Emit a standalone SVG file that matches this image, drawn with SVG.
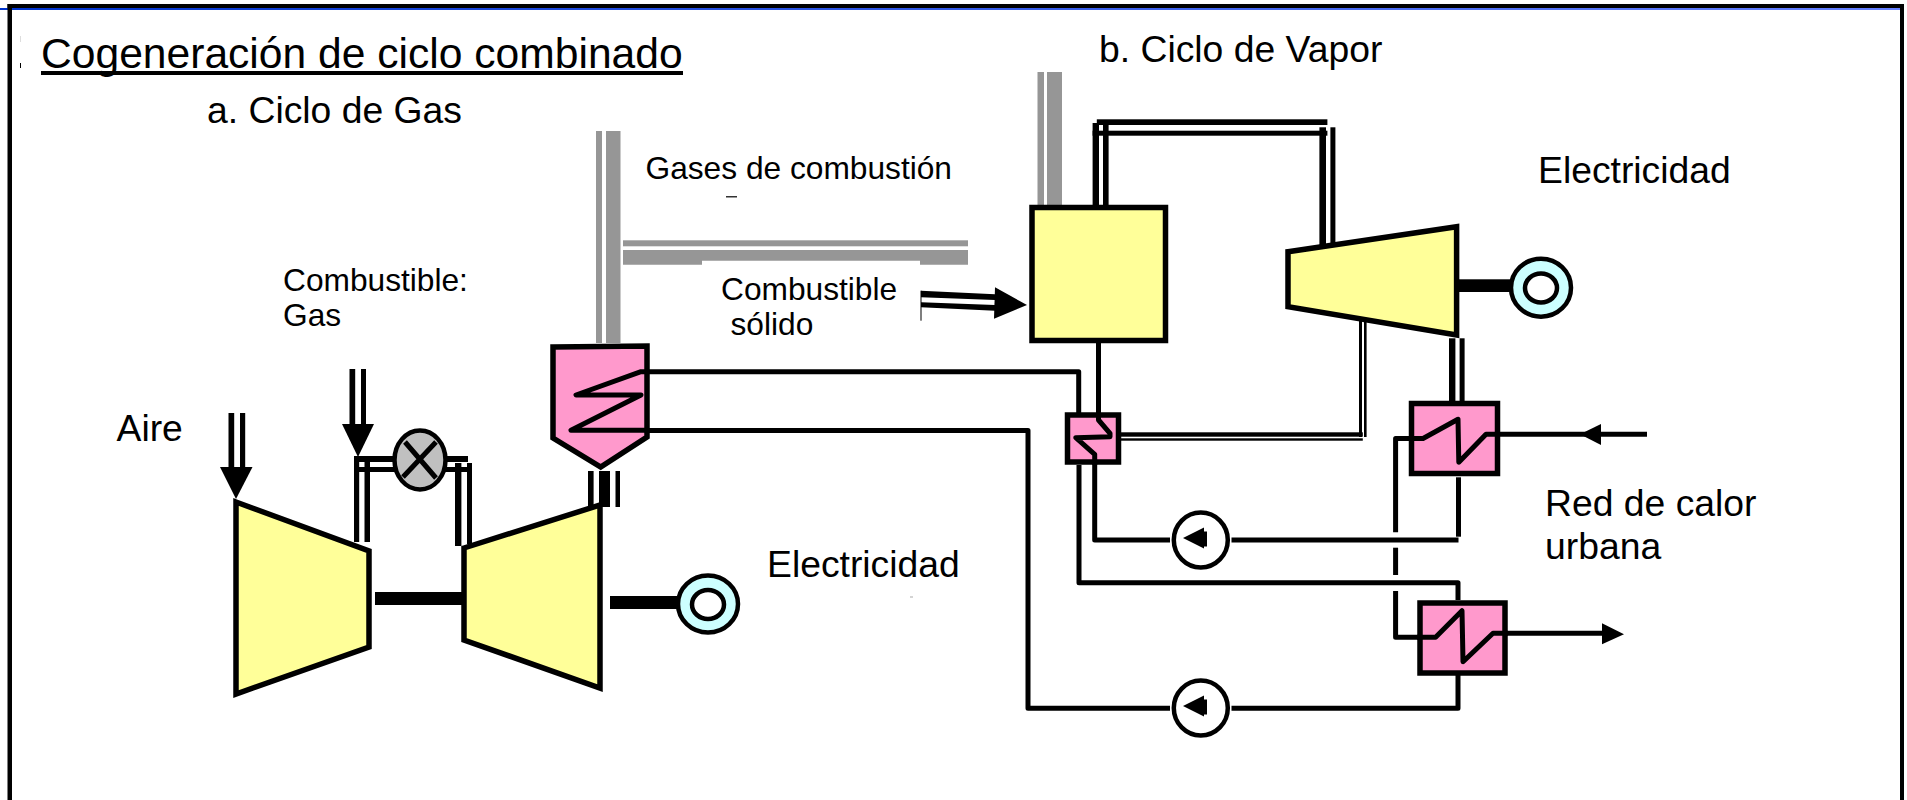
<svg xmlns="http://www.w3.org/2000/svg" width="1907" height="800" viewBox="0 0 1907 800">
<style>
text{font-family:"Liberation Sans",Arial,sans-serif;fill:#000}
.yel{fill:#FFFF99;stroke:#000;stroke-width:5.5}
.pink{fill:#FF99CC;stroke:#000;stroke-width:5.5}
.ln{fill:none;stroke:#000;stroke-width:5;stroke-linejoin:round}
.gr{fill:#969696}
.bk{fill:#000}
.big{font-size:37.3px}
.sm{font-size:31.7px}
.pmp{fill:#fff;stroke:#000;stroke-width:4.5}
</style>
<defs><linearGradient id="bl"><stop offset="0" stop-color="#0033cc"/><stop offset="1" stop-color="#6680ff"/></linearGradient></defs>
<rect width="1907" height="800" fill="#fff"/>
<g id="frame">
<rect x="0" y="8" width="1904" height="2" fill="url(#bl)"/>
<rect x="7.5" y="4" width="1896.5" height="4" class="bk"/>
<rect x="7.5" y="4" width="4.5" height="796" class="bk"/>
<rect x="1900" y="4" width="4" height="796" class="bk"/>
<rect x="20" y="36" width="1" height="6" fill="#ddd"/>
<rect x="20" y="63" width="1" height="5" class="bk"/>
<rect x="726" y="196" width="11" height="1.5" fill="#333"/>
<rect x="910" y="596.5" width="3" height="1" fill="#aaa"/>
</g>
<g id="labels">
<text id="title" x="41" y="67.5" font-size="42.6">Cogeneración de ciclo combinado</text>
<rect x="41" y="71" width="642" height="4" class="bk"/>
<text x="207" y="123" class="big">a. Ciclo de Gas</text>
<text x="1099" y="62" class="big">b. Ciclo de Vapor</text>
<text x="645.5" y="179" class="sm">Gases de combustión</text>
<text x="283" y="291" class="sm">Combustible:</text>
<text x="283" y="326" class="sm">Gas</text>
<text x="721" y="300" class="sm">Combustible</text>
<text x="730.5" y="335" class="sm">sólido</text>
<text x="116.5" y="441" class="big">Aire</text>
<text x="767" y="577" class="big">Electricidad</text>
<text x="1538" y="183" class="big">Electricidad</text>
<text x="1545" y="516" class="big">Red de calor</text>
<text x="1545" y="558.5" class="big">urbana</text>
</g>
<g id="connectors">
<g class="gr">
<rect x="596" y="131" width="6" height="212"/><rect x="606" y="131" width="14.5" height="212"/>
<rect x="623" y="240.3" width="345" height="6"/><path d="M623 250H968V264.7H920V260.7H702V264.7H623Z"/>
<rect x="1037.5" y="72" width="6.5" height="134"/><rect x="1047" y="72" width="15" height="134"/>
</g>
<g class="bk">
<rect x="228.5" y="413" width="5.7" height="56"/><rect x="240" y="413" width="5.2" height="56"/>
<path d="M220 467H252.5L236 499Z"/>
<rect x="349.5" y="369" width="5.7" height="56"/><rect x="361" y="369" width="5" height="56"/>
<path d="M342 424H374L358 457Z"/>
<rect x="354" y="456" width="114" height="6"/><rect x="354" y="467" width="118" height="5"/>
<rect x="354" y="459" width="5.2" height="83"/><rect x="364.5" y="462" width="5.5" height="80"/>
<rect x="455" y="463" width="6.4" height="83"/><rect x="467" y="463" width="5" height="81"/>
<rect x="375" y="592" width="87" height="13"/><rect x="610" y="596" width="68" height="13"/>
<rect x="588" y="471" width="5.6" height="36"/><rect x="599" y="471" width="11" height="36"/><rect x="615.5" y="471" width="4.5" height="36"/>
<path d="M921 290.7L995 294.3V300L921 297.3ZM921 302.3L995 305V310.7L921 307.3Z"/>
<rect x="920.5" y="290.7" width="1" height="30"/>
<path d="M995 287.3L1027 305L994 318.7Z"/>
<rect x="1092.6" y="123" width="6.4" height="83"/><rect x="1103" y="123" width="5.6" height="83"/>
<rect x="1096.8" y="119.3" width="230.6" height="5.7"/><rect x="1092.6" y="130.7" width="234.8" height="5"/>
<rect x="1319.4" y="127.3" width="6.6" height="125.4"/><rect x="1330.4" y="127.3" width="5" height="125.4"/>
<rect x="1458" y="279.3" width="52" height="12.7"/>
<rect x="1359" y="315" width="3" height="122"/><rect x="1364" y="315" width="2.6" height="122"/>
<rect x="1120" y="432.3" width="242.8" height="4.4"/><rect x="1120" y="438.3" width="242.8" height="2.4"/>
<rect x="1449" y="338.3" width="6.4" height="64"/><rect x="1459.6" y="338.3" width="5" height="64"/>
<path d="M1580 434.3L1601 424V445Z"/><path d="M1602 623.3L1624 634.3L1602 644.3Z"/>
</g>
<path class="ln" d="M645 371.7H1078.7V413"/>
<path class="ln" d="M645 430.5H1028V708.3H1170"/>
<path class="ln" d="M1231.5 708.3H1458V675"/>
<path class="ln" d="M1098.5 342V420"/>
<path class="ln" d="M1094.7 462V540H1170"/>
<path class="ln" d="M1231.5 540H1458.5"/>
<path class="ln" d="M1458.5 536.7V477.3"/>
<path class="ln" d="M1079 465V582.7H1458V600"/>
<path class="ln" d="M1395.6 532.3V438.5H1423"/>
<path class="ln" d="M1395.6 547.7V575"/>
<path class="ln" d="M1395.6 591V637.3H1436"/>
<path class="ln" d="M1486 434.3H1647"/>
<path class="ln" d="M1493 633.3H1602"/>
</g>
<g id="compressor"><polygon class="yel" points="236,502 369,551 369,647 236,694"/></g>
<g id="turbine-gas"><polygon class="yel" points="464,548 600,505 600,688 464,640"/></g>
<g id="generator-gas"><ellipse cx="708" cy="604" rx="30" ry="28.5" fill="#CCFFFF" stroke="#000" stroke-width="4.5"/><ellipse cx="708" cy="604.5" rx="16" ry="14.5" fill="#fff" stroke="#000" stroke-width="4.5"/></g>
<g id="valve"><ellipse cx="420" cy="460" rx="25.5" ry="29.5" fill="#C0C0C0" stroke="#000" stroke-width="4.5"/><path class="ln" d="M405 442L436 478M436 442L403 477"/></g>
<g id="hrsg"><polygon class="pink" points="553,347 647,346 647,437 600.7,467 553,438"/><path class="ln" d="M648 371.7H641L576 395H641L571 430.3H648"/></g>
<g id="boiler"><rect class="yel" x="1032" y="207.5" width="133.5" height="133"/></g>
<g id="turbine-steam"><polygon class="yel" points="1288,251.7 1456.6,226.7 1456.6,335 1288,306.7"/></g>
<g id="generator-steam"><ellipse cx="1541" cy="287.7" rx="30" ry="29" fill="#CCFFFF" stroke="#000" stroke-width="4.5"/><ellipse cx="1541" cy="288" rx="16" ry="14.5" fill="#fff" stroke="#000" stroke-width="4.5"/></g>
<g id="hx-small"><rect class="pink" x="1067.5" y="415" width="51" height="47"/><path class="ln" d="M1098.5 412V420L1110 433.3V436.7L1075.8 437.7L1094.7 454.3V465"/></g>
<g id="hx-1"><rect class="pink" x="1411.5" y="403.5" width="86" height="70"/><path class="ln" d="M1409 438.5H1423L1458 419.3L1458.8 462.3L1486 434.3H1500"/></g>
<g id="hx-2"><rect class="pink" x="1420" y="603" width="85" height="70"/><path class="ln" d="M1417 637.3H1435.6L1462 610.7L1463 661.7L1493 633.3H1508"/></g>
<g id="pump-1"><ellipse class="pmp" cx="1200.8" cy="540" rx="27" ry="27.5"/><path class="bk" d="M1183 538L1204 527.5V531.5H1207V546.5H1204V548.5Z"/></g>
<g id="pump-2"><ellipse class="pmp" cx="1200.8" cy="708" rx="27" ry="27.5"/><path class="bk" d="M1183 706L1204 695.5V699.5H1207V714.5H1204V716.5Z"/></g>
</svg>
